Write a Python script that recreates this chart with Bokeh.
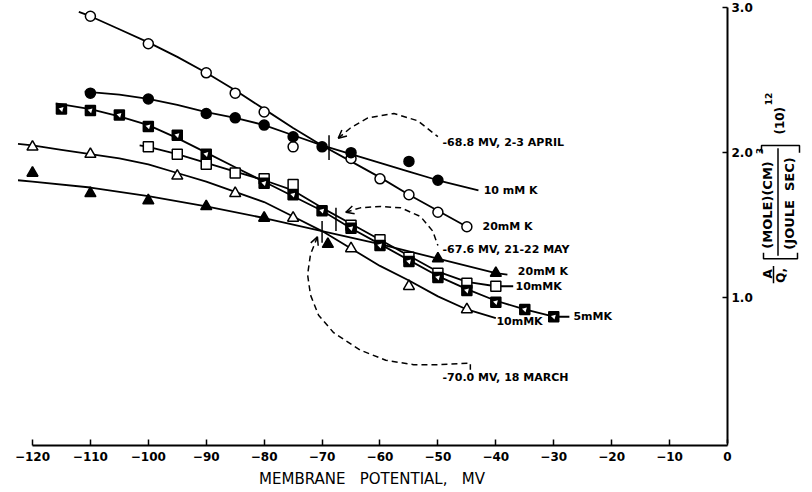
import math
from bokeh.plotting import figure
from bokeh.layouts import row
from bokeh.models import (Range1d, FixedTicker, NumeralTickFormatter, Label, Arrow,
                          OpenHead)
from bokeh.embed import file_html
from bokeh.resources import INLINE

# ---------------- data ----------------
x_ticks = [-120, -110, -100, -90, -80, -70, -60, -50, -40, -30, -20, -10, 0]
y_ticks = [1.0, 2.0, 3.0]

# 2-3 April, 20 mM K (open circles)
apr20_x = [-110, -100, -90, -85, -80, -75, -65, -60, -55, -50, -45]
apr20_y = [2.94, 2.75, 2.55, 2.41, 2.28, 2.04, 1.96, 1.82, 1.71, 1.59, 1.49]
apr20_cx = [-112, -110, -105, -100, -95, -90, -85, -80, -75, -70, -65, -60, -55, -50, -45]
apr20_cy = [2.97, 2.94, 2.85, 2.76, 2.66, 2.55, 2.43, 2.30, 2.17, 2.05, 1.94, 1.83, 1.71, 1.60, 1.49]

# 2-3 April, 10 mM K (filled circles)
apr10_x = [-110, -100, -90, -85, -80, -75, -70, -65, -55, -50]
apr10_y = [2.41, 2.37, 2.27, 2.24, 2.19, 2.11, 2.04, 2.00, 1.94, 1.81]
apr10_cx = [-111, -105, -100, -95, -90, -85, -80, -75, -70, -65, -60, -55, -50, -43]
apr10_cy = [2.42, 2.40, 2.37, 2.33, 2.28, 2.24, 2.19, 2.12, 2.05, 1.99, 1.93, 1.87, 1.81, 1.74]

# 21-22 May, 5 mM K (half-filled squares)
may5_x = [-115, -110, -105, -100, -95, -90, -80, -75, -70, -65, -60, -55, -50, -45, -40, -35, -30]
may5_y = [2.30, 2.29, 2.26, 2.18, 2.12, 1.99, 1.79, 1.71, 1.60, 1.48, 1.36, 1.25, 1.14, 1.05, 0.97, 0.92, 0.87]
may5_cx = [-116, -110, -105, -100, -95, -90, -85, -80, -75, -70, -65, -60, -55, -50, -45, -40, -35, -30, -27.3]
may5_cy = [2.34, 2.30, 2.25, 2.19, 2.10, 2.00, 1.90, 1.80, 1.70, 1.60, 1.48, 1.37, 1.26, 1.15, 1.06, 0.98, 0.92, 0.87, 0.87]

# 21-22 May, 10 mM K (open squares)
may10_x = [-100, -95, -90, -85, -80, -75, -65, -60, -55, -50, -45, -40]
may10_y = [2.04, 1.99, 1.92, 1.86, 1.82, 1.78, 1.50, 1.40, 1.28, 1.17, 1.10, 1.08]
may10_cx = [-101.5, -100, -95, -90, -85, -80, -75, -70, -65, -60, -55, -50, -45, -40, -37]
may10_cy = [2.05, 2.04, 1.99, 1.93, 1.87, 1.81, 1.74, 1.62, 1.51, 1.40, 1.29, 1.18, 1.11, 1.08, 1.08]

# 18 March, 10 mM K (open triangles)
mar10_x = [-120, -110, -95, -85, -75, -65, -55, -45]
mar10_y = [2.04, 1.99, 1.84, 1.72, 1.55, 1.34, 1.08, 0.92]
mar10_cx = [-122.5, -120, -115, -110, -105, -100, -95, -90, -85, -80, -75, -70, -65, -60, -55, -50, -45, -40]
mar10_cy = [2.06, 2.05, 2.02, 1.99, 1.96, 1.92, 1.86, 1.80, 1.73, 1.66, 1.56, 1.46, 1.34, 1.22, 1.12, 1.01, 0.92, 0.86]

# 18 March, 20 mM K (filled triangles)
mar20_x = [-120, -110, -100, -90, -80, -69, -50, -40]
mar20_y = [1.86, 1.72, 1.67, 1.63, 1.55, 1.37, 1.27, 1.17]
mar20_cx = [-122.5, -120, -110, -100, -90, -80, -70, -60, -50, -40, -38]
mar20_cy = [1.81, 1.80, 1.76, 1.70, 1.63, 1.55, 1.46, 1.37, 1.27, 1.17, 1.16]

# crossing points (intersection potentials)
cross_x = [-68.8, -67.6, -70.0]
cross_y0 = [1.95, 1.46, 1.38]
cross_y1 = [2.12, 1.62, 1.53]

# dashed leader curves (first point = arrow tip)
apr_lead_x = [-67.2, -65.1, -62.1, -57.6, -53.5, -50.0]
apr_lead_y = [2.10, 2.17, 2.24, 2.27, 2.22, 2.11]
may_lead_x = [-65.9, -63.4, -59.9, -56.4, -53.0, -50.9, -50.0]
may_lead_y = [1.59, 1.62, 1.63, 1.62, 1.56, 1.46, 1.36]
mar_lead_x = [-70.8, -72.0, -72.5, -72.0, -70.6, -68.0, -63.4, -59.0, -54.2, -49.5, -44.4, -44.4]
mar_lead_y = [1.42, 1.30, 1.16, 1.02, 0.88, 0.76, 0.64, 0.57, 0.54, 0.54, 0.55, 0.505]

series_labels = ["10 mM K", "20mM K", "20mM K", "10mMK", "10mMK", "5mMK"]
series_label_x = [-42.1, -42.3, -36.2, -36.6, -39.9, -26.6]
series_label_y = [1.74, 1.49, 1.18, 1.08, 0.84, 0.87]

note_labels = ["-68.8 MV, 2-3 APRIL", "-67.6 MV, 21-22 MAY", "-70.0 MV, 18 MARCH"]
note_x = [-49.2, -49.2, -49.2]
note_y = [2.07, 1.33, 0.45]

FONT = "DejaVu Sans"
NB = "\u00a0"
H = 490
TOP = 7
BOTTOM = 44

p = figure(width=755, height=H,
           x_range=Range1d(-122.76, 0), y_range=Range1d(-0.017, 3.0),
           y_axis_location="right",
           output_backend="svg", toolbar_location=None,
           min_border_left=16, min_border_right=28, min_border_top=TOP, min_border_bottom=BOTTOM)
p.xgrid.visible = False
p.ygrid.visible = False
p.outline_line_color = None

for ax, ticks, tin in ((p.xaxis[0], x_ticks, 6), (p.yaxis[0], y_ticks, 5)):
    ax.ticker = FixedTicker(ticks=ticks)
    ax.major_tick_in = tin
    ax.major_tick_out = 0
    ax.minor_tick_in = 0
    ax.minor_tick_out = 0
    ax.axis_line_width = 2
    ax.axis_line_color = "black"
    ax.major_tick_line_width = 1.5
    ax.major_tick_line_color = "black"
    ax.major_label_text_font = FONT
    ax.major_label_text_font_style = "bold"
    ax.major_label_text_font_size = "12px"
    ax.major_label_text_color = "black"

p.xaxis.major_label_standoff = 6
p.yaxis.major_label_standoff = 4
p.xaxis.bounds = (-120, 0)
p.yaxis.bounds = (0, 3)
p.yaxis.formatter = NumeralTickFormatter(format="0.0")
p.xaxis.axis_label = "MEMBRANE" + NB * 3 + "POTENTIAL," + NB * 3 + "MV"
p.xaxis.axis_label_text_font = FONT
p.xaxis.axis_label_text_font_style = "normal"
p.xaxis.axis_label_text_font_size = "15px"
p.xaxis.axis_label_text_color = "black"
p.xaxis.axis_label_standoff = 6

LW = 1.8
# fitted curves
for cx, cy in ((apr20_cx, apr20_cy), (apr10_cx, apr10_cy), (may5_cx, may5_cy),
               (may10_cx, may10_cy), (mar10_cx, mar10_cy), (mar20_cx, mar20_cy)):
    p.line(cx, cy, line_color="black", line_width=LW)

# markers
p.scatter(apr20_x, apr20_y, marker="circle", size=10, fill_color="white", line_color="black", line_width=1.5)
p.scatter(apr10_x, apr10_y, marker="circle", size=10, fill_color="black", line_color="black", line_width=1.5)
p.scatter(may10_x, may10_y, marker="square", size=10, fill_color="white", line_color="black", line_width=1.5)
p.scatter(may5_x, may5_y, marker="square", size=10, fill_color="black", line_color="black", line_width=1.5)
p.scatter(may5_x, may5_y, marker="triangle", size=5, angle=-math.pi / 4, fill_color="white", line_color=None)
p.scatter(mar10_x, mar10_y, marker="triangle", size=11, fill_color="white", line_color="black", line_width=1.5)
p.scatter(mar20_x, mar20_y, marker="triangle", size=11, fill_color="black", line_color="black", line_width=1.5)

# intersection marks
p.segment(cross_x, cross_y0, cross_x, cross_y1, line_color="black", line_width=1.5)

# dashed leaders with arrowheads
for lx, ly in ((apr_lead_x, apr_lead_y), (may_lead_x, may_lead_y), (mar_lead_x, mar_lead_y)):
    p.line(lx, ly, line_color="black", line_width=1.5, line_dash="6 4")
    p.add_layout(Arrow(end=OpenHead(size=8, line_width=1.5, line_color="black"),
                       x_start=lx[1], y_start=ly[1], x_end=lx[0], y_end=ly[0],
                       line_width=1.5, line_color="black", line_alpha=0))

# texts
for t, x, y in zip(series_labels, series_label_x, series_label_y):
    p.add_layout(Label(x=x, y=y, text=t, text_font=FONT, text_font_style="bold",
                       text_font_size="11px", text_baseline="middle", text_align="left",
                       text_color="black"))
for t, x, y in zip(note_labels, note_x, note_y):
    p.add_layout(Label(x=x, y=y, text=t, text_font=FONT, text_font_style="bold",
                       text_font_size="11px", text_baseline="middle", text_align="left",
                       text_color="black"))

# ---- side panel holding the rotated y-axis title (shares the y scale) ----
q = figure(width=55, height=H, x_range=Range1d(755, 810), y_range=p.y_range,
           x_axis_location=None, y_axis_location=None,
           output_backend="svg", toolbar_location=None,
           min_border_left=0, min_border_right=0, min_border_top=TOP, min_border_bottom=BOTTOM)
q.outline_line_color = None
q.grid.visible = False

ylab = [("A", 767, 1.165, "12px"), ("Q,", 780, 1.155, "12px"),
        ("(MOLE)(CM)", 767, 1.64, "13px"), ("3", 759, 2.01, "9px"),
        ("(JOULE" + NB * 2 + "SEC)", 789, 1.65, "13px"),
        ("(10)", 779, 2.22, "12px"), ("12", 768, 2.37, "9px")]
for t, x, y, fs in ylab:
    q.add_layout(Label(x=x, y=y, text=t, angle=math.pi / 2, text_font=FONT,
                       text_font_style="bold", text_font_size=fs,
                       text_align="center", text_baseline="middle", text_color="black"))
# fraction bars and brackets
bar_xs = [[773, 773], [777.5, 777.5],
          [763, 763, 797, 797], [761, 761, 799, 799]]
bar_ys = [[1.10, 1.22], [1.29, 2.03],
          [1.31, 1.27, 1.27, 1.31], [2.00, 2.05, 2.05, 2.00]]
q.multi_line(bar_xs, bar_ys, line_color="black", line_width=1.5)

open("out.html", "w").write(file_html(row(p, q), INLINE))
